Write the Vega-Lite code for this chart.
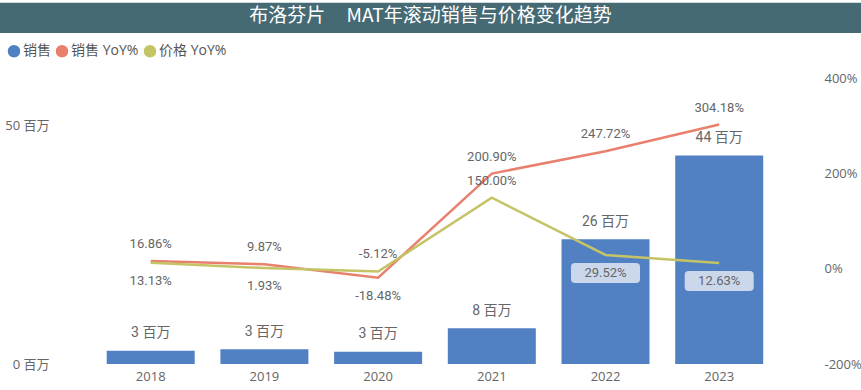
{
  "$schema": "https://vega.github.io/schema/vega-lite/v6.json",
  "width": 861,
  "height": 328,
  "autosize": {"type": "none"},
  "padding": {"left": 0, "right": 0, "top": 36, "bottom": 26},
  "background": "#ffffff",
  "title": {
    "text": "布洛芬片\u00a0\u00a0\u00a0\u00a0\u00a0MAT年滚动销售与价格变化趋势",
    "anchor": "middle",
    "frame": "group",
    "font": "Noto Sans CJK SC",
    "fontSize": 19,
    "fontWeight": "normal",
    "color": "#ffffff",
    "baseline": "middle",
    "offset": -32.3,
    "zindex": 1
  },
  "config": {
    "view": {"stroke": null},
    "axis": {
      "grid": false,
      "domain": false,
      "ticks": false,
      "tickSize": 0,
      "labelFont": "Open Sans, Noto Sans CJK SC",
      "labelFontSize": 13,
      "labelColor": "#666666",
      "title": null
    }
  },
  "datasets": {
    "sales": [
      {"year": "2018", "sales": 2.8, "label": "3 百万"},
      {"year": "2019", "sales": 3.1, "label": "3 百万"},
      {"year": "2020", "sales": 2.55, "label": "3 百万"},
      {"year": "2021", "sales": 7.5, "label": "8 百万"},
      {"year": "2022", "sales": 26.2, "label": "26 百万"},
      {"year": "2023", "sales": 43.8, "label": "44 百万"}
    ],
    "yoy": [
      {"year": "2018", "series": "销售 YoY%", "value": 16.86, "label": "16.86%"},
      {"year": "2019", "series": "销售 YoY%", "value": 9.87, "label": "9.87%"},
      {"year": "2020", "series": "销售 YoY%", "value": -18.48, "label": "-18.48%"},
      {"year": "2021", "series": "销售 YoY%", "value": 200.9, "label": "200.90%"},
      {"year": "2022", "series": "销售 YoY%", "value": 247.72, "label": "247.72%"},
      {"year": "2023", "series": "销售 YoY%", "value": 304.18, "label": "304.18%"},
      {"year": "2018", "series": "价格 YoY%", "value": 13.13, "label": "13.13%"},
      {"year": "2019", "series": "价格 YoY%", "value": 1.93, "label": "1.93%"},
      {"year": "2020", "series": "价格 YoY%", "value": -5.12, "label": "-5.12%"},
      {"year": "2021", "series": "价格 YoY%", "value": 150.0, "label": "150.00%"},
      {"year": "2022", "series": "价格 YoY%", "value": 29.52, "label": "29.52%"},
      {"year": "2023", "series": "价格 YoY%", "value": 12.63, "label": "12.63%"}
    ]
  },
  "layer": [
    {
      "data": {"name": "sales"},
      "layer": [
        {
          "mark": {"type": "bar"},
          "encoding": {
            "x": {"field": "year", "type": "nominal", "scale": {"type": "band", "paddingInner": 0.226, "paddingOuter": 0.8993, "align": 0.5218}, "axis": {"orient": "bottom", "labelAngle": 0, "labelPadding": 6, "labelFontSize": 13}},
            "y": {"field": "sales", "type": "quantitative", "scale": {"domain": [0, 68.9], "nice": false, "zero": false}, "axis": {"orient": "left", "values": [0, 50], "labelExpr": "datum.value + ' 百万'", "offset": -49, "labelPadding": 0, "labelAlign": "right"}},
            "color": {
              "datum": "销售",
              "type": "nominal",
              "scale": {"domain": ["销售", "销售 YoY%", "价格 YoY%"], "range": ["#5181c3", "#e8806e", "#c4c466"]},
              "legend": {
                "orient": "none", "legendX": 7, "legendY": 8, "direction": "horizontal", "title": null,
                "symbolType": "circle", "symbolSize": 121, "labelFontSize": 14, "labelColor": "#555555",
                "labelFont": "Open Sans, Noto Sans CJK SC", "labelOffset": 2, "columnPadding": 2, "padding": 0,
                "encode": {"symbols": {"update": {"fill": {"scale": "color", "field": "value"}, "stroke": {"value": "transparent"}}}}
              }
            }
          }
        },
        {
          "mark": {"type": "text", "dy": -17.5, "fontSize": 14, "color": "#666666", "font": "Roboto, Noto Sans CJK SC"},
          "encoding": {
            "x": {"field": "year", "type": "nominal"},
            "y": {"field": "sales", "type": "quantitative", "scale": {"domain": [0, 68.9], "nice": false, "zero": false}},
            "text": {"field": "label"}
          }
        }
      ]
    },
    {
      "layer": [
        {
          "data": {"name": "yoy"},
          "mark": {"type": "line", "strokeWidth": 2.5},
          "encoding": {
            "x": {"field": "year", "type": "nominal"},
            "y": {"field": "value", "type": "quantitative", "scale": {"domain": [-200, 490.5], "nice": false, "zero": false}, "axis": {"orient": "right", "values": [-200, 0, 200, 400], "labelExpr": "datum.value + '%'", "offset": -37, "labelPadding": 0, "labelAlign": "left"}},
            "color": {
              "field": "series",
              "type": "nominal",
              "scale": {"domain": ["销售", "销售 YoY%", "价格 YoY%"], "range": ["#5181c3", "#e8806e", "#c4c466"]},
              "legend": {
                "orient": "none", "legendX": 7, "legendY": 8, "direction": "horizontal", "title": null,
                "symbolType": "circle", "symbolSize": 121, "labelFontSize": 14, "labelColor": "#555555",
                "labelFont": "Open Sans, Noto Sans CJK SC", "labelOffset": 2, "columnPadding": 2, "padding": 0,
                "encode": {"symbols": {"update": {"fill": {"scale": "color", "field": "value"}, "stroke": {"value": "transparent"}}}}
              }
            }
          }
        },
        {
          "data": {"name": "yoy"},
          "transform": [{"filter": "datum.series == '价格 YoY%' && (datum.year == '2022' || datum.year == '2023')"}],
          "mark": {"type": "point", "shape": "M-0.884,-0.29L0.884,-0.29Q1,-0.29 1,-0.174L1,0.174Q1,0.29 0.884,0.29L-0.884,0.29Q-1,0.29 -1,0.174L-1,-0.174Q-1,-0.29 -0.884,-0.29Z", "filled": true, "fill": "#cbd8ec", "strokeWidth": 0, "opacity": 1, "size": 4761, "yOffset": 18},
          "encoding": {
            "x": {"field": "year", "type": "nominal"},
            "y": {"field": "value", "type": "quantitative", "scale": {"domain": [-200, 490.5], "nice": false, "zero": false}}
          }
        },
        {
          "data": {"name": "yoy"},
          "transform": [{"filter": "(datum.series == '销售 YoY%' && datum.year != '2020') || (datum.series == '价格 YoY%' && (datum.year == '2020' || datum.year == '2021'))"}],
          "mark": {"type": "text", "dy": -17, "fontSize": 13, "color": "#666666", "font": "Roboto, Noto Sans CJK SC"},
          "encoding": {
            "x": {"field": "year", "type": "nominal"},
            "y": {"field": "value", "type": "quantitative", "scale": {"domain": [-200, 490.5], "nice": false, "zero": false}},
            "text": {"field": "label"}
          }
        },
        {
          "data": {"name": "yoy"},
          "transform": [{"filter": "!((datum.series == '销售 YoY%' && datum.year != '2020') || (datum.series == '价格 YoY%' && (datum.year == '2020' || datum.year == '2021')))"}],
          "mark": {"type": "text", "dy": 18, "fontSize": 13, "color": "#666666", "font": "Roboto, Noto Sans CJK SC"},
          "encoding": {
            "x": {"field": "year", "type": "nominal"},
            "y": {"field": "value", "type": "quantitative", "scale": {"domain": [-200, 490.5], "nice": false, "zero": false}},
            "text": {"field": "label"}
          }
        },
        {
          "data": {"values": [{}]},
          "mark": {"type": "rect", "fill": "#466a74"},
          "encoding": {
            "y": {"datum": 560.6, "type": "quantitative", "scale": {"domain": [-200, 490.5], "nice": false, "zero": false}},
            "y2": {"datum": 496.8}
          }
        }
      ]
    }
  ],
  "resolve": {"scale": {"y": "independent"}}
}
